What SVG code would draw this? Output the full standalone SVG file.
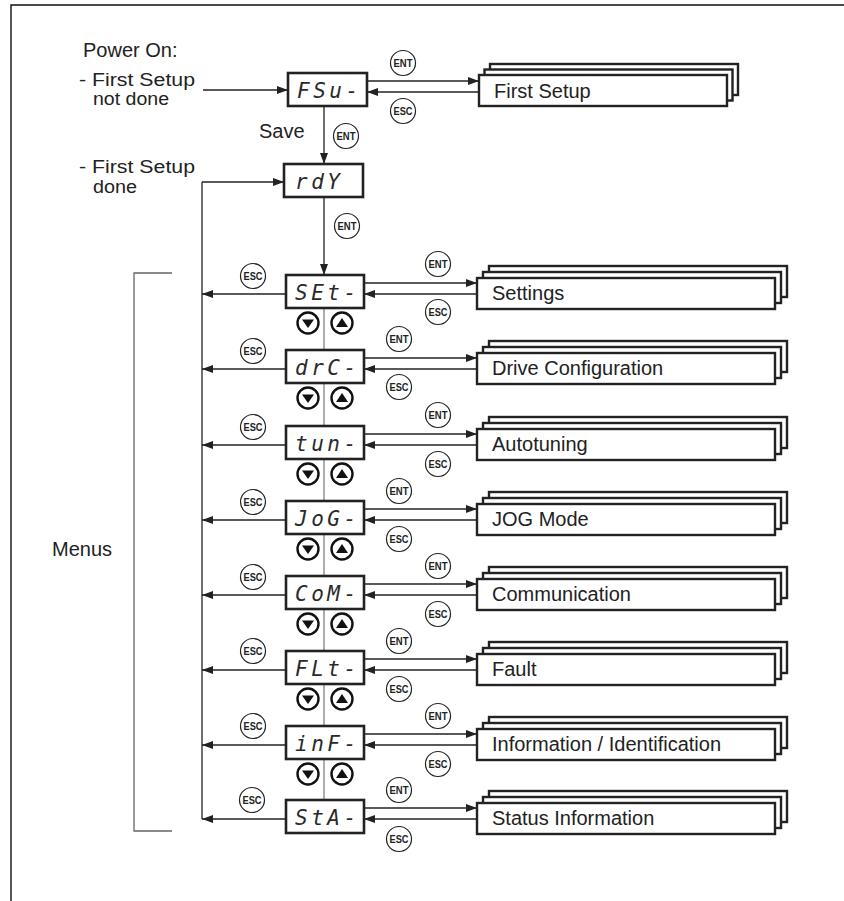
<svg xmlns="http://www.w3.org/2000/svg" width="844" height="901" viewBox="0 0 844 901">
<style>
.lbl{font-family:"Liberation Sans",Arial,sans-serif;font-size:20px;fill:#222}
.sl{font-family:"Liberation Sans",Arial,sans-serif;font-size:18px;fill:#222}
.seg{font-family:"DejaVu Sans Mono",monospace;font-style:italic;font-size:21px;fill:#2a2a2a;letter-spacing:3.5px}
.disp{fill:#fff;stroke:#222;stroke-width:2.6}
.stk{fill:#fff;stroke:#222;stroke-width:2.4}
.key circle{fill:#fff;stroke:#222;stroke-width:1.2}
.key text{font-family:"Liberation Sans",Arial,sans-serif;font-size:10.5px;font-weight:bold;fill:#222;text-anchor:middle}
.nav circle{fill:#fff;stroke:#111;stroke-width:2.4}
.nav path{fill:#111}
.ln{fill:none;stroke:#222;stroke-width:1.3}
.lg{fill:none;stroke:#777;stroke-width:1.2}
.arr{marker-end:url(#ah)}
</style>
<defs>
<marker id="ah" markerUnits="userSpaceOnUse" markerWidth="11" markerHeight="8" refX="11" refY="4" orient="auto">
<path d="M0,0 L11,4 L0,8 z" fill="#222"/>
</marker>
<g id="ent" class="key"><circle r="12.5"/><text y="3.8" textLength="19" lengthAdjust="spacingAndGlyphs">ENT</text></g>
<g id="esc" class="key"><circle r="12.5"/><text y="3.8" textLength="19" lengthAdjust="spacingAndGlyphs">ESC</text></g>
<g id="dn" class="nav"><circle r="10.5"/><path d="M-6,-3.5 L6,-3.5 L0,5 z"/></g>
<g id="up" class="nav"><circle r="10.5"/><path d="M-6,4 L6,4 L0,-5 z"/></g>
</defs>
<rect width="844" height="901" fill="#fff"/>
<!-- frame -->
<path d="M11,901 V5 H844" fill="none" stroke="#111" stroke-width="1.4"/>

<!-- labels -->
<g id="labels">
<text class="lbl" x="83" y="57">Power On:</text>
<text class="sl" x="79" y="86" textLength="116" lengthAdjust="spacingAndGlyphs">- First Setup</text>
<text class="sl" x="93" y="105" textLength="76" lengthAdjust="spacingAndGlyphs">not done</text>
<text class="sl" x="79" y="173" textLength="116" lengthAdjust="spacingAndGlyphs">- First Setup</text>
<text class="sl" x="93" y="193" textLength="44" lengthAdjust="spacingAndGlyphs">done</text>
<text class="lbl" x="259" y="138">Save</text>
<text class="lbl" x="112" y="556" text-anchor="end">Menus</text>
</g>
<path id="bracket" d="M172,273 H134 V831 H172" fill="none" stroke="#666" stroke-width="1.3"/>

<!-- connectors -->
<g id="connectors">
<path class="ln arr" d="M203,90 H288"/>
<path class="ln arr" d="M367,81 H479"/>
<path class="ln arr" d="M479,92 H367"/>
<path class="ln arr" d="M324,106 V164"/>
<path class="ln" d="M202,182 V819"/>
<path class="ln arr" d="M202,182 H284"/>
<path class="ln arr" d="M324,197 V275"/>
<path class="lg" d="M324,308 V350 M324,383 V426 M324,459 V501 M324,534 V576 M324,609 V651 M324,684 V726 M324,759 V800"/>
<path class="ln arr" d="M364,283 H477"/><path class="ln arr" d="M477,294 H364"/><path class="ln arr" d="M286,294 H202"/>
<path class="ln arr" d="M364,358 H477"/><path class="ln arr" d="M477,369 H364"/><path class="ln arr" d="M286,369 H202"/>
<path class="ln arr" d="M364,434 H477"/><path class="ln arr" d="M477,445 H364"/><path class="ln arr" d="M286,445 H202"/>
<path class="ln arr" d="M364,509 H477"/><path class="ln arr" d="M477,520 H364"/><path class="ln arr" d="M286,520 H202"/>
<path class="ln arr" d="M364,584 H477"/><path class="ln arr" d="M477,595 H364"/><path class="ln arr" d="M286,595 H202"/>
<path class="ln arr" d="M364,659 H477"/><path class="ln arr" d="M477,670 H364"/><path class="ln arr" d="M286,670 H202"/>
<path class="ln arr" d="M364,734 H477"/><path class="ln arr" d="M477,745 H364"/><path class="ln arr" d="M286,745 H202"/>
<path class="ln arr" d="M364,808 H477"/><path class="ln arr" d="M477,819 H364"/><path class="ln arr" d="M286,819 H202"/>
</g>

<!-- keys -->
<g id="keys">
<use href="#ent" x="403" y="63"/><use href="#esc" x="403" y="111"/>
<use href="#ent" x="346" y="136"/>
<use href="#ent" x="347" y="226"/>
<use href="#esc" x="253" y="276"/><use href="#ent" x="438" y="264"/><use href="#esc" x="438" y="312"/>
<use href="#esc" x="253" y="351"/><use href="#ent" x="399" y="339"/><use href="#esc" x="399" y="387"/>
<use href="#esc" x="253" y="427"/><use href="#ent" x="438" y="415"/><use href="#esc" x="438" y="464"/>
<use href="#esc" x="253" y="502"/><use href="#ent" x="399" y="491"/><use href="#esc" x="399" y="539"/>
<use href="#esc" x="253" y="577"/><use href="#ent" x="438" y="566"/><use href="#esc" x="438" y="614"/>
<use href="#esc" x="253" y="651"/><use href="#ent" x="399" y="641"/><use href="#esc" x="399" y="689"/>
<use href="#esc" x="253" y="726"/><use href="#ent" x="438" y="716"/><use href="#esc" x="438" y="764"/>
<use href="#esc" x="252" y="800"/><use href="#ent" x="399" y="790"/><use href="#esc" x="399" y="839"/>
</g>

<!-- up/down -->
<g id="navkeys">
<use href="#dn" x="308" y="323"/><use href="#up" x="342" y="323"/>
<use href="#dn" x="308" y="398"/><use href="#up" x="342" y="398"/>
<use href="#dn" x="308" y="474"/><use href="#up" x="342" y="474"/>
<use href="#dn" x="308" y="549"/><use href="#up" x="342" y="549"/>
<use href="#dn" x="308" y="624"/><use href="#up" x="342" y="624"/>
<use href="#dn" x="308" y="699"/><use href="#up" x="342" y="699"/>
<use href="#dn" x="308" y="774"/><use href="#up" x="342" y="774"/>
</g>

<!-- display nodes -->
<g id="n-FSu"><rect class="disp" x="288" y="73" width="79" height="33"/><text class="seg" x="297" y="98">FSu-</text></g>
<g id="n-rdy"><rect class="disp" x="284" y="164" width="79" height="33"/><text class="seg" x="295" y="189">rdY</text></g>
<g id="n-SEt"><rect class="disp" x="286" y="275" width="78" height="33"/><text class="seg" x="295" y="300">SEt-</text></g>
<g id="n-drC"><rect class="disp" x="286" y="350" width="78" height="33"/><text class="seg" x="295" y="375">drC-</text></g>
<g id="n-tun"><rect class="disp" x="286" y="426" width="78" height="33"/><text class="seg" x="295" y="451">tun-</text></g>
<g id="n-JoG"><rect class="disp" x="286" y="501" width="78" height="33"/><text class="seg" x="295" y="526">JoG-</text></g>
<g id="n-CoM"><rect class="disp" x="286" y="576" width="78" height="33"/><text class="seg" x="295" y="601">CoM-</text></g>
<g id="n-FLt"><rect class="disp" x="286" y="651" width="78" height="33"/><text class="seg" x="295" y="676">FLt-</text></g>
<g id="n-inF"><rect class="disp" x="286" y="726" width="78" height="33"/><text class="seg" x="295" y="751">inF-</text></g>
<g id="n-StA"><rect class="disp" x="286" y="800" width="78" height="33"/><text class="seg" x="295" y="825">StA-</text></g>

<!-- menu stacks -->
<g id="m-first"><rect class="stk" x="490" y="64" width="248" height="31"/><rect class="stk" x="484.5" y="69.5" width="248" height="31"/><rect class="stk" x="479" y="75" width="248" height="31"/><text class="lbl" x="494" y="98">First Setup</text></g>
<g id="m-settings"><rect class="stk" x="489" y="266" width="298" height="31"/><rect class="stk" x="483" y="272" width="298" height="31"/><rect class="stk" x="477" y="278" width="298" height="31"/><text class="lbl" x="492" y="300">Settings</text></g>
<g id="m-drive"><rect class="stk" x="489" y="341" width="298" height="31"/><rect class="stk" x="483" y="347" width="298" height="31"/><rect class="stk" x="477" y="353" width="298" height="31"/><text class="lbl" x="492" y="375">Drive Configuration</text></g>
<g id="m-auto"><rect class="stk" x="489" y="417" width="298" height="31"/><rect class="stk" x="483" y="423" width="298" height="31"/><rect class="stk" x="477" y="429" width="298" height="31"/><text class="lbl" x="492" y="451">Autotuning</text></g>
<g id="m-jog"><rect class="stk" x="489" y="492" width="298" height="31"/><rect class="stk" x="483" y="498" width="298" height="31"/><rect class="stk" x="477" y="504" width="298" height="31"/><text class="lbl" x="492" y="526">JOG Mode</text></g>
<g id="m-comm"><rect class="stk" x="489" y="567" width="298" height="31"/><rect class="stk" x="483" y="573" width="298" height="31"/><rect class="stk" x="477" y="579" width="298" height="31"/><text class="lbl" x="492" y="601">Communication</text></g>
<g id="m-fault"><rect class="stk" x="489" y="642" width="298" height="31"/><rect class="stk" x="483" y="648" width="298" height="31"/><rect class="stk" x="477" y="654" width="298" height="31"/><text class="lbl" x="492" y="676">Fault</text></g>
<g id="m-info"><rect class="stk" x="489" y="717" width="298" height="31"/><rect class="stk" x="483" y="723" width="298" height="31"/><rect class="stk" x="477" y="729" width="298" height="31"/><text class="lbl" x="492" y="751">Information / Identification</text></g>
<g id="m-status"><rect class="stk" x="489" y="791" width="298" height="31"/><rect class="stk" x="483" y="797" width="298" height="31"/><rect class="stk" x="477" y="803" width="298" height="31"/><text class="lbl" x="492" y="825">Status Information</text></g>
</svg>
